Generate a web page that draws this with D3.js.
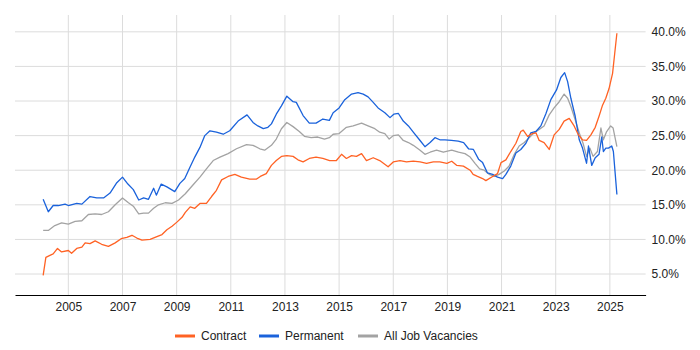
<!DOCTYPE html>
<html><head><meta charset="utf-8">
<script src="https://cdn.jsdelivr.net/npm/d3@7"></script>
<style>body{margin:0;background:#fff}svg{display:block;font-family:"Liberation Sans",Arial,sans-serif}</style>
</head><body>
<svg id="c" width="700" height="350"></svg>
<script>
// Decimal-year positions and percentage values
const contractYears = [2004.07,2004.17,2004.32,2004.44,2004.6,2004.75,2005.0,2005.12,2005.31,2005.5,2005.62,2005.8,2005.99,2006.23,2006.48,2006.73,2006.95,2007.16,2007.35,2007.53,2007.72,2008.02,2008.27,2008.46,2008.64,2008.83,2009.01,2009.2,2009.32,2009.5,2009.67,2009.86,2010.1,2010.29,2010.47,2010.66,2010.9,2011.15,2011.39,2011.7,2011.94,2012.09,2012.31,2012.5,2012.68,2012.87,2013.07,2013.3,2013.48,2013.67,2013.9,2014.15,2014.4,2014.65,2014.9,2015.09,2015.27,2015.46,2015.64,2015.83,2016.01,2016.26,2016.5,2016.81,2017.0,2017.25,2017.49,2017.74,2017.99,2018.23,2018.48,2018.72,2018.98,2019.16,2019.35,2019.59,2019.84,2019.95,2020.11,2020.3,2020.42,2020.67,2020.85,2020.98,2021.16,2021.34,2021.53,2021.71,2021.8,2021.96,2022.14,2022.27,2022.39,2022.57,2022.76,2022.94,2023.13,2023.31,2023.5,2023.68,2023.84,2023.99,2024.14,2024.3,2024.46,2024.6,2024.73,2024.85,2024.97,2025.1,2025.18,2025.26];
const contractValues = [4.8,7.4,7.7,7.9,8.7,8.2,8.4,8.0,8.7,8.9,9.5,9.4,9.8,9.3,9.0,9.5,10.1,10.3,10.6,10.2,9.9,10.0,10.4,10.7,11.4,11.9,12.5,13.2,13.9,14.7,14.5,15.2,15.2,16.2,17.1,18.6,19.1,19.4,19.0,18.7,18.7,19.1,19.5,20.7,21.4,22.0,22.1,22.0,21.5,21.2,21.7,21.9,21.7,21.4,21.4,22.3,21.7,22.1,22.0,22.4,21.4,21.8,21.4,20.5,21.2,21.4,21.2,21.3,21.2,21.0,21.2,21.2,21.0,21.3,20.7,20.6,20.0,19.4,19.1,18.8,18.5,19.1,19.5,21.1,21.5,22.7,23.9,25.6,25.8,24.9,25.3,25.4,24.3,24.0,23.0,25.1,25.9,27.1,27.5,26.4,25.1,24.4,24.3,25.1,26.2,27.8,29.4,30.4,31.8,34.0,36.9,39.8];

const permanentYears = [2004.07,2004.26,2004.44,2004.63,2004.88,2005.0,2005.31,2005.5,2005.8,2006.05,2006.3,2006.54,2006.79,2007.0,2007.2,2007.4,2007.6,2007.78,2007.96,2008.15,2008.25,2008.43,2008.64,2008.93,2009.12,2009.3,2009.5,2009.67,2009.86,2010.04,2010.23,2010.47,2010.72,2010.96,2011.27,2011.6,2011.82,2012.0,2012.2,2012.37,2012.5,2012.68,2012.87,2013.07,2013.3,2013.42,2013.67,2013.9,2014.15,2014.4,2014.64,2014.78,2015.0,2015.21,2015.46,2015.7,2015.89,2016.07,2016.26,2016.44,2016.69,2016.88,2017.02,2017.19,2017.37,2017.56,2017.74,2017.99,2018.17,2018.36,2018.54,2018.72,2018.91,2019.15,2019.4,2019.6,2019.78,2019.96,2020.15,2020.3,2020.48,2020.67,2020.85,2021.04,2021.16,2021.34,2021.53,2021.71,2021.9,2022.08,2022.27,2022.45,2022.64,2022.82,2023.03,2023.19,2023.33,2023.44,2023.56,2023.72,2023.87,2023.99,2024.14,2024.21,2024.33,2024.46,2024.6,2024.7,2024.76,2024.85,2024.95,2025.07,2025.13,2025.26];
const permanentValues = [15.8,14.0,14.9,14.9,15.1,14.9,15.2,15.1,16.2,16.0,16.0,16.7,18.2,19.0,18.0,17.2,15.7,16.0,15.8,17.4,16.4,18.0,17.6,16.9,18.1,18.8,20.5,21.9,23.3,25.0,25.7,25.5,25.2,25.7,27.1,28.0,26.9,26.4,26.0,26.2,26.7,28.1,29.3,30.7,29.9,29.8,27.9,26.8,26.8,27.4,27.2,28.3,29.0,30.2,31.0,31.2,31.0,30.6,29.8,29.0,28.3,27.6,28.1,28.2,27.1,26.4,25.5,24.3,23.4,24.0,24.7,24.4,24.4,24.3,24.2,24.0,23.1,23.0,21.6,21.1,19.6,19.4,19.0,18.8,19.4,20.6,22.5,23.0,23.9,25.4,25.6,26.4,28.2,30.2,31.6,33.4,34.1,32.8,30.4,27.8,24.4,23.2,21.0,23.5,20.7,21.8,22.3,24.8,22.7,23.2,23.2,23.5,22.7,16.5];

const allYears = [2004.07,2004.26,2004.5,2004.75,2005.0,2005.25,2005.5,2005.74,2005.99,2006.23,2006.48,2006.73,2007.0,2007.22,2007.4,2007.6,2007.78,2007.96,2008.15,2008.33,2008.58,2008.83,2009.07,2009.32,2009.61,2009.86,2010.1,2010.35,2010.6,2010.9,2011.21,2011.58,2011.82,2012.07,2012.25,2012.5,2012.68,2012.87,2013.07,2013.3,2013.53,2013.72,2013.97,2014.21,2014.46,2014.64,2014.78,2015.0,2015.27,2015.52,2015.83,2016.07,2016.32,2016.5,2016.69,2016.85,2017.0,2017.19,2017.37,2017.56,2017.74,2017.99,2018.17,2018.36,2018.6,2018.85,2019.16,2019.41,2019.65,2019.84,2020.02,2020.19,2020.36,2020.54,2020.73,2020.91,2021.1,2021.28,2021.47,2021.65,2021.84,2022.02,2022.2,2022.39,2022.57,2022.76,2022.94,2023.13,2023.31,2023.44,2023.56,2023.72,2023.87,2024.01,2024.14,2024.26,2024.38,2024.54,2024.67,2024.76,2024.87,2025.03,2025.12,2025.26];
const allValues = [11.3,11.3,12.0,12.4,12.2,12.6,12.7,13.6,13.7,13.6,14.0,15.0,16.0,15.3,14.8,13.7,13.8,13.8,14.5,15.0,15.3,15.2,15.7,16.6,17.9,19.0,20.2,21.4,21.9,22.4,23.1,23.7,23.6,23.1,22.9,23.6,24.5,26.0,26.9,26.3,25.6,24.9,24.7,24.8,24.5,24.7,25.2,25.3,26.2,26.4,26.8,26.4,26.0,25.5,25.3,24.5,25.0,25.1,24.3,24.0,23.6,22.9,22.3,22.6,22.9,22.6,22.9,22.6,22.4,21.9,21.0,20.2,20.0,19.4,19.1,19.4,19.9,20.6,22.3,23.5,24.0,24.7,25.4,25.9,26.4,28.0,29.0,29.9,31.0,30.4,29.2,27.3,25.4,23.9,22.0,23.2,22.0,22.7,26.1,24.4,25.5,26.4,26.1,23.4];

const xTickYears = [2005,2007,2009,2011,2013,2015,2017,2019,2021,2023,2025];
const yTickValues = [5,10,15,20,25,30,35,40];
const seriesNames = ["Contract","Permanent","All Job Vacancies"];
const seriesColors = ["#ff6224","#1a62db","#a3a3a3"];

(function () {
const svg = d3.select("#c");
const pLeft = 15, pRight = 645.6, pTop = 15, pBottom = 295;
const x = d3.scaleLinear().domain([2003.03, 2026.32]).range([pLeft, pRight]);
const y = d3.scaleLinear().domain([1.97, 42.43]).range([pBottom, pTop]);

// grid
svg.append("g").selectAll("line").data(xTickYears).join("line")
  .attr("x1", d => x(d)).attr("x2", d => x(d)).attr("y1", pTop).attr("y2", pBottom)
  .attr("stroke", "#dcdcdc").attr("stroke-width", 1);
svg.append("g").selectAll("line").data(yTickValues).join("line")
  .attr("x1", pLeft).attr("x2", pRight).attr("y1", d => y(d)).attr("y2", d => y(d))
  .attr("stroke", "#dcdcdc").attr("stroke-width", 1);

// x axis
const xAxis = d3.axisBottom(x).tickValues(xTickYears).tickFormat(d3.format("d")).tickSize(0).tickPadding(7);
const gx = svg.append("g").attr("transform", `translate(0,${pBottom})`).call(xAxis);
gx.select(".domain").attr("stroke", "#000").attr("stroke-width", 1);
gx.selectAll("text").attr("font-size", 12).attr("fill", "#222").attr("font-family", "Liberation Sans, Arial, sans-serif");

// y axis (right)
const yAxis = d3.axisRight(y).tickValues(yTickValues).tickFormat(d => d.toFixed(1) + "%").tickSize(0).tickPadding(6);
const gy = svg.append("g").attr("transform", `translate(${pRight},0)`).call(yAxis);
gy.select(".domain").remove();
gy.selectAll("text").attr("font-size", 12).attr("fill", "#222").attr("font-family", "Liberation Sans, Arial, sans-serif");

// lines
const series = [
  {xs: allYears, vs: allValues, c: seriesColors[2]},
  {xs: permanentYears, vs: permanentValues, c: seriesColors[1]},
  {xs: contractYears, vs: contractValues, c: seriesColors[0]}
];
const line = d3.line().x(d => x(d[0])).y(d => y(d[1]));
series.forEach(s => {
  svg.append("path").datum(s.xs.map((t, i) => [t, s.vs[i]]))
    .attr("d", line).attr("fill", "none").attr("stroke", s.c).attr("stroke-width", 1.3)
    .attr("stroke-linejoin", "round");
});

// legend
const legendX = [175, 259, 358];
const lg = svg.append("g");
seriesNames.forEach((n, i) => {
  lg.append("line").attr("x1", legendX[i]).attr("x2", legendX[i] + 20).attr("y1", 336).attr("y2", 336)
    .attr("stroke", seriesColors[i]).attr("stroke-width", 3);
  lg.append("text").attr("x", legendX[i] + 26).attr("y", 336).attr("dy", "0.35em")
    .attr("font-size", 12).attr("fill", "#222").text(n);
});
})();
</script>
</body></html>
